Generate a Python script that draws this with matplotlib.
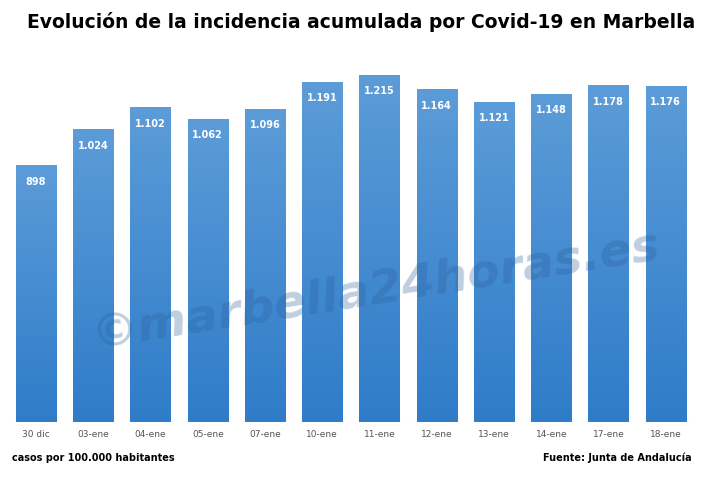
import matplotlib
matplotlib.use("Agg")
import matplotlib.pyplot as plt
import numpy as np

categories = ["30 dic","03-ene","04-ene","05-ene","07-ene","10-ene","11-ene","12-ene","13-ene","14-ene","17-ene","18-ene"]
values = [898,1024,1102,1062,1096,1191,1215,1164,1121,1148,1178,1176]
labels = ["898","1.024","1.102","1.062","1.096","1.191","1.215","1.164","1.121","1.148","1.178","1.176"]

W, H = 722, 479
fig = plt.figure(figsize=(W/100, H/100), dpi=100)
ax = fig.add_axes([7.4/W, 1-422/H, 687/W, 400/H])
bw = 0.7
grad = np.linspace(0, 1, 256).reshape(-1, 1)
cmap = matplotlib.colors.LinearSegmentedColormap.from_list("b", ["#2f7cc9", "#5c9cd8"])
for i, v in enumerate(values):
    bar = ax.bar(i, v, width=bw, color="none")[0]
    im = ax.imshow(grad, extent=[i-bw/2, i+bw/2, 0, v], origin="lower", aspect="auto", cmap=cmap, zorder=2)
    im.set_clip_path(bar)
    ax.text(i, v-40, labels[i], ha="center", va="top", color="white", fontsize=7, fontweight="bold", zorder=3)
ax.set_aspect("auto")
ax.set_xlim(-0.5, 11.5)
ax.set_ylim(0, 1400)
ax.set_xticks(range(len(categories)))
ax.set_xticklabels(categories, fontsize=6.5, color="#555555")
ax.tick_params(length=0, pad=6)
ax.set_yticks([])
for s in ax.spines.values():
    s.set_visible(False)
ax.axhline(0, color="#d0d0d0", lw=0.8)

fig.text(0.5, 1-22/H, "Evolución de la incidencia acumulada por Covid-19 en Marbella", ha="center", va="center", fontsize=13.5, fontweight="bold")
fig.text(12/W, 1-458/H, "casos por 100.000 habitantes", ha="left", va="center", fontsize=7, fontweight="bold")
fig.text(692/W, 1-458/H, "Fuente: Junta de Andalucía", ha="right", va="center", fontsize=7, fontweight="bold")
fig.text(375/W, 1-290/H, "©marbella24horas.es", ha="center", va="center", fontsize=34, fontweight="bold", fontstyle="italic", color="#2a5f99", alpha=0.3, rotation=9)
fig.savefig("out.png", dpi=100)
